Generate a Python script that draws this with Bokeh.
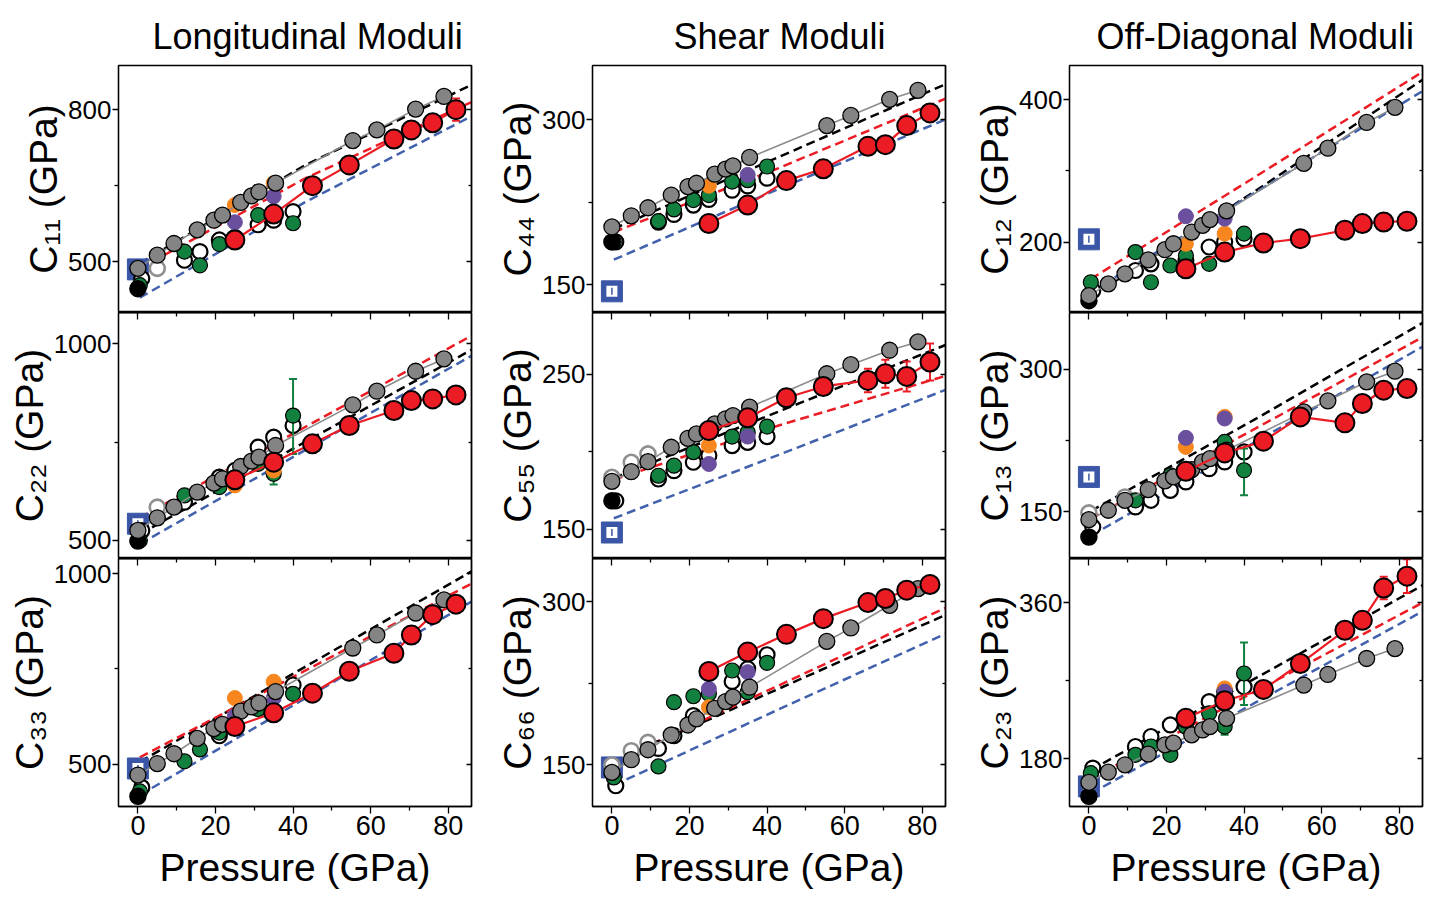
import numpy as np
from bokeh.plotting import figure
from bokeh.layouts import gridplot
from bokeh.models import FixedTicker, LinearAxis, Range1d
from bokeh.embed import file_html
from bokeh.resources import INLINE

n = np.nan
FONT = "Liberation Sans"

PANELS = [["C11", "C44", "C12"], ["C22", "C55", "C13"], ["C33", "C66", "C23"]]
TITLES = ["Longitudinal Moduli", "Shear Moduli", "Off-Diagonal Moduli"]
YLABELS = {"C11": "C\u2081\u2081 (GPa)", "C44": "C\u2084\u2084 (GPa)", "C12": "C\u2081\u2082 (GPa)",
           "C22": "C\u2082\u2082 (GPa)", "C55": "C\u2085\u2085 (GPa)", "C13": "C\u2081\u2083 (GPa)",
           "C33": "C\u2083\u2083 (GPa)", "C66": "C\u2086\u2086 (GPa)", "C23": "C\u2082\u2083 (GPa)"}
Y_RANGE = {"C11": (400, 887), "C44": (125, 349), "C12": (101, 448),
           "C22": (454, 1080), "C55": (131, 290), "C13": (101, 360),
           "C33": (389, 1040), "C66": (111.5, 340), "C23": (125, 411)}
Y_MAJOR = {"C11": [500, 800], "C44": [150, 300], "C12": [200, 400],
           "C22": [500, 1000], "C55": [150, 250], "C13": [150, 300],
           "C33": [500, 1000], "C66": [150, 300], "C23": [180, 360]}
Y_MINOR = {"C11": [650], "C44": [225], "C12": [300],
           "C22": [750], "C55": [200], "C13": [225],
           "C33": [750], "C66": [225], "C23": [270]}
X_TICKS = [0, 20, 40, 60, 80]
X_MINOR = [10, 30, 50, 70]

# pressures (GPa)
GRAY_P = [0, 5, 9.3, 15.3, 19.6, 21.8, 26.5, 29.3, 31.2, 35.5, 55.4, 61.6, 71.6, 78.9]
RED_P = [25, 35, 45, 54.5, 66, 70.5, 76, 82]
OPEN_P = [1, 12, 16, 21, 25, 31, 35, 40]
GREEN_P = [0.5, 12, 16, 21, 25, 31, 35, 40]
GRAYOPEN_P = [0, 5, 9.3]
OP_P = [25, 35]
ZERO_P = [0]
DASH_P = [0.5, 43, 86]

GRAY = {
    "C11": [487, 513, 536, 563, 582, 592, 617, 630, 638, 655, 739, 760, 801, 826],
    "C44": [202.6, 212.7, 220, 231.5, 239.2, 242.2, 250.4, 255, 258, 265.6, 294.5, 303.7, 318.3, 326.5],
    "C12": [124.7, 141.2, 155.3, 175, 189.2, 197.6, 214, 223.5, 231.5, 243.8, 310.6, 331.8, 368, 389.2],
    "C22": [525.4, 557.6, 584.7, 622.9, 645.8, 656.8, 688.1, 701.7, 711.9, 741.5, 844.9, 879.7, 930.5, 961.9],
    "C55": [180.9, 187.1, 193.6, 202.9, 208.7, 211.5, 218, 221.3, 223.4, 228.8, 250.4, 256.3, 265.6, 271],
    "C13": [141.9, 151.8, 162.3, 173.6, 182.7, 186.9, 194.6, 202.7, 206.2, 215, 255.4, 267, 287, 298.2],
    "C33": [471.6, 501.7, 527.5, 567.9, 593.6, 604.8, 639.2, 650.3, 660.7, 690.7, 805, 839.3, 896.9, 931.3],
    "C66": [142.9, 154.6, 163.8, 177.4, 186.6, 192.2, 202, 208.2, 212.2, 221.4, 263.6, 276, 296.9, 312.3],
    "C23": [152.8, 164.7, 173.1, 185.4, 196.1, 198, 207.6, 213.3, 217.1, 226.7, 265, 277.3, 295.7, 307.1],
}
RED = {
    "C11": [543, 594, 650, 691, 742, 760, 774, 800],
    "C44": [205.7, 222.4, 244.6, 255.3, 275.7, 277.2, 294.5, 306],
    "C12": [162.4, 185.9, 198.6, 204.7, 216.5, 225.9, 228.2, 229.2],
    "C22": [654.2, 699.2, 745.8, 792.4, 830.5, 855.9, 860.2, 870.3],
    "C55": [213.7, 221.9, 234.9, 242.2, 246.1, 250.4, 248.7, 258],
    "C13": [192.9, 212.2, 224.5, 250.1, 243.8, 264.2, 278.2, 280],
    "C33": [598.8, 634.9, 686.4, 744, 791.2, 839.3, 892.6, 920.1],
    "C66": [235.9, 253.8, 270.1, 284.6, 299.4, 303.1, 310.8, 316],
    "C23": [226.7, 247, 260, 289.9, 328.2, 339.7, 376.9, 390.6],
}
RED_ERR = {
    "C11": [0, 0, 0, 0, 0, 0, 14, 22],
    "C44": [0, 0, 0, 0, 0, 0, 0, 0],
    "C12": [0, 0, 0, 0, 0, 0, 0, 0],
    "C22": [0, 0, 0, 0, 0, 0, 0, 0],
    "C55": [0, 0, 0, 0, 7.6, 9, 9.7, 12],
    "C13": [0, 0, 0, 0, 0, 0, 0, 0],
    "C33": [0, 0, 0, 0, 0, 0, 0, 0],
    "C66": [0, 0, 0, 0, 0, 0, 0, 0],
    "C23": [0, 0, 0, 0, 0, 5, 13, 19.5],
}
OPEN = {
    "C11": [467, 503, 520, 543, 548, 573, 582, 599],
    "C44": [189, 207, 214, 222.4, 227.6, 236, 239.8, 246.8],
    "C12": [131.8, 160, 169.4, n, 174, 193, 200, 204.7],
    "C22": [525, 597.5, n, 661, 678, 737.3, 762.7, 792.4],
    "C55": [168.3, 182.4, 187.8, 193.2, 197.5, 204, 206.1, 209.8],
    "C13": [134.2, 155.3, 162.3, 172.8, 181.6, 195.6, 202.7, 213.2],
    "C33": [439, n, n, 574.7, n, n, n, 707.9],
    "C66": [130.6, 165, 176.8, 195.3, n, 226.7, 238.4, 251.3],
    "C23": [169.3, 194.2, 205.7, 219.1, n, 245.9, 257.4, 263.1],
}
GREEN = {
    "C11": [454, 520, 493, 535, n, 592, n, 576],
    "C44": [189, 207.8, 218.5, 227, 231.5, 243.7, 245, 257.4],
    "C12": [143.5, 185.9, 143.5, 167, 181, 169.4, n, 211.8],
    "C22": [500, 614.4, n, 635.6, 648, 695, 669.5, 817.8],
    "C55": [n, 184.5, 191, 199.7, n, 209.8, 212.6, 216.3],
    "C13": [n, 162.3, n, 188.6, n, n, 223.8, 193.9],
    "C33": [428.7, 507.7, 538.7, 583, n, 645, n, 684.7],
    "C66": [138.3, 148.4, 207.6, 213.1, 215.3, 236.8, 216.8, 243.9],
    "C23": [163.5, 184.6, 194.2, 184.6, 217, 232.5, 217.1, 278.4],
}
GREEN_LO = {
    "C22": [n, n, n, n, n, n, 642.5, 720],
    "C13": [n, n, n, n, n, n, n, 167.6],
    "C23": [n, n, n, n, n, n, 207.6, 242],
}
GREEN_HI = {
    "C22": [n, n, n, n, n, n, 696.5, 911],
    "C13": [n, n, n, n, n, n, n, 216.8],
    "C23": [n, n, n, n, n, n, 226.6, 314],
}
GRAYOPEN = {
    "C11": [n, 487, n], "C44": [n, n, n], "C12": [n, n, n],
    "C22": [n, 584.7, n], "C55": [183.5, 193.2, 198.6], "C13": [149, n, 165.8],
    "C33": [n, n, n], "C66": [149.7, 162.9, 170.6], "C23": [n, n, n],
}
ORANGE = {
    "C11": [612, 655], "C44": [240, n], "C12": [197.6, 211.8],
    "C22": [640, 678], "C55": [204, n], "C13": [218.5, 250.1],
    "C33": [673.5, 716.5], "C66": [203, n], "C23": [n, 261.2],
}
PURPLE = {
    "C11": [578, 629], "C44": [n, 249.8], "C12": [236.2, 232.9],
    "C22": [n, n], "C55": [192.1, 209.8], "C13": [228, 248.4],
    "C33": [626.3, 673.5], "C66": [219.9, 235.3], "C23": [n, 257.4],
}
BLACK0 = {"C11": [447], "C44": [189], "C12": [117.6], "C22": [498.3], "C55": [168.3],
          "C13": [123.7], "C33": [415.8], "C66": [n], "C23": [136.7]}
BLUE0 = {"C11": [485], "C44": [144.2], "C12": [203.8], "C22": [542.4], "C55": [147.8],
         "C13": [186.9], "C33": [488.8], "C66": [147.5], "C23": [148.2]}
DASH_BLACK = {"C11": [497, 690, 849], "C44": [201, 266, 332], "C12": [123, 272, 428],
              "C22": [516, 750, 985], "C55": [183, 226, 269], "C13": [151, 248, 349],
              "C33": [506, 755, 1006], "C66": [153, 220, 288], "C23": [167, 273, 380]}
DASH_RED = {"C11": [487, 664, 815], "C44": [198, 256, 319], "C12": [148, 292, 439],
            "C22": [558, 788, 1021], "C55": [182, 217, 249], "C13": [143, 238, 334],
            "C33": [518, 745, 974], "C66": [153, 223, 294.5], "C23": [157, 258, 360]}
DASH_BLUE = {"C11": [429, 617, 787], "C44": [173, 237, 300], "C12": [130, 270, 412],
             "C22": [491, 729, 970], "C55": [157, 198, 240], "C13": [125, 224, 324],
             "C33": [419, 672, 927], "C66": [131, 201, 270.7], "C23": [140, 245, 350]}

C_RED = "#ec1c24"
C_GRAY = "#848484"
C_GREEN = "#12803e"
C_ORANGE = "#f7861e"
C_PURPLE = "#6a4f9e"
C_BLUE = "#3b56a6"
C_DBLUE = "#4261ad"

FRAME_H = [247, 246, 248]
MBL = [118, 111, 110]
MBR = [10, 14, 8]
TITLE_OFFSET = [34, 81, 27]
LW = 1.3


def errbars(p, xs, lo, hi, color, width, cap):
    x2, l2, h2 = [], [], []
    for x, lv, hv in zip(xs, lo, hi):
        if not (np.isnan(lv) or np.isnan(hv)):
            x2.append(x); l2.append(lv); h2.append(hv)
    if x2:
        p.segment(x0=x2, y0=l2, x1=x2, y1=h2, line_color=color, line_width=width)
        p.scatter(x=x2 + x2, y=l2 + h2, marker="dash", size=cap, line_color=color, line_width=width)


def tick_only_axis(ticks, length):
    # axis that carries only tick marks (no labels)
    return LinearAxis(ticker=FixedTicker(ticks=[], minor_ticks=ticks),
                      major_tick_in=0, major_tick_out=0,
                      minor_tick_in=length, minor_tick_out=0,
                      major_label_standoff=0, axis_line_width=LW,
                      minor_tick_line_width=LW)


def make_panel(key, r, c):
    kw = dict(frame_width=353, frame_height=FRAME_H[r],
              x_range=Range1d(-5, 86), y_range=Range1d(*Y_RANGE[key]),
              output_backend="svg", toolbar_location=None,
              x_axis_location="below" if r == 2 else None,
              min_border=0, min_border_left=MBL[c], min_border_right=MBR[c],
              min_border_top=65 if r == 0 else 0, min_border_bottom=90 if r == 2 else 0,
              background_fill_color="white", border_fill_color="white",
              outline_line_color="black", outline_line_width=LW)
    if r == 0:
        kw["title"] = TITLES[c]
    p = figure(**kw)
    p.xgrid.grid_line_color = None
    p.ygrid.grid_line_color = None
    if r == 0:
        p.title.text_font = FONT
        p.title.text_font_size = "36px"
        p.title.text_font_style = "normal"
        p.title.text_color = "black"
        p.title.align = "left"
        p.title.offset = TITLE_OFFSET[c]
        p.title.standoff = 18

    ya = p.left[0]
    ya.ticker = FixedTicker(ticks=Y_MAJOR[key], minor_ticks=Y_MINOR[key])
    ya.major_tick_out = 6; ya.major_tick_in = 0
    ya.minor_tick_out = 4; ya.minor_tick_in = 0
    ya.major_tick_line_width = LW; ya.minor_tick_line_width = LW
    ya.axis_line_width = LW
    ya.major_label_text_font = FONT
    ya.major_label_text_font_size = "26px"
    ya.major_label_text_color = "black"
    ya.major_label_standoff = 1
    ya.axis_label = YLABELS[key]
    ya.axis_label_text_font = FONT
    ya.axis_label_text_font_size = "39px"
    ya.axis_label_text_font_style = "normal"
    ya.axis_label_text_color = "black"
    ya.axis_label_standoff = 0

    p.add_layout(tick_only_axis(Y_MAJOR[key], 5), "right")
    p.add_layout(tick_only_axis(Y_MINOR[key], 3), "right")

    if r > 0:
        p.add_layout(tick_only_axis(X_TICKS, 7), "above")
        p.add_layout(tick_only_axis(X_MINOR, 4), "above")
    if r == 2:
        xa = p.below[0]
        xa.ticker = FixedTicker(ticks=X_TICKS, minor_ticks=X_MINOR)
        xa.major_tick_out = 7; xa.major_tick_in = 0
        xa.minor_tick_out = 4; xa.minor_tick_in = 0
        xa.major_tick_line_width = LW; xa.minor_tick_line_width = LW
        xa.axis_line_width = LW
        xa.major_label_text_font = FONT
        xa.major_label_text_font_size = "27px"
        xa.major_label_text_color = "black"
        xa.major_label_standoff = 2
        xa.axis_label = "Pressure (GPa)"
        xa.axis_label_text_font = FONT
        xa.axis_label_text_font_size = "39px"
        xa.axis_label_text_font_style = "normal"
        xa.axis_label_text_color = "black"
        xa.axis_label_standoff = 8

    # dashed reference curves
    p.line(DASH_P, DASH_BLACK[key], line_color="black", line_width=2.5, line_dash="9 5")
    p.line(DASH_P, DASH_RED[key], line_color=C_RED, line_width=2.5, line_dash="9 5")
    p.line(DASH_P, DASH_BLUE[key], line_color=C_DBLUE, line_width=2.5, line_dash="9 5")

    # blue square at ambient
    p.scatter(ZERO_P, BLUE0[key], marker="square", size=21, fill_color=C_BLUE, line_color=C_BLUE)
    p.scatter(ZERO_P, BLUE0[key], marker="square", size=11, fill_color="white", line_color=None)
    p.scatter(ZERO_P, BLUE0[key], marker="dash", angle=np.pi / 2, size=7, line_color=C_BLUE, line_width=1.5)

    # open circles
    p.scatter(OPEN_P, OPEN[key], marker="circle", size=15, fill_color="white",
              line_color="black", line_width=2.2)
    p.scatter(GRAYOPEN_P, GRAYOPEN[key], marker="circle", size=15, fill_color="white",
              line_color="#8f8f8f", line_width=2.6)

    # green with error bars
    if key in GREEN_LO:
        errbars(p, GREEN_P, GREEN_LO[key], GREEN_HI[key], C_GREEN, 2, 8)
    p.scatter(GREEN_P, GREEN[key], marker="circle", size=15, fill_color=C_GREEN,
              line_color="black", line_width=1.2)
    p.scatter(OP_P, ORANGE[key], marker="circle", size=15, fill_color=C_ORANGE,
              line_color=C_ORANGE, line_width=1.0)
    p.scatter(OP_P, PURPLE[key], marker="circle", size=15, fill_color=C_PURPLE,
              line_color=C_PURPLE, line_width=1.0)
    p.scatter(ZERO_P, BLACK0[key], marker="circle", size=16, fill_color="black",
              line_color="black", line_width=1.5)

    # gray connected series
    p.line(GRAY_P, GRAY[key], line_color="#8c8c8c", line_width=1.6)
    p.scatter(GRAY_P, GRAY[key], marker="circle", size=16, fill_color=C_GRAY,
              line_color="black", line_width=1.3)

    # red connected series with error bars
    lo = [v - e if e > 0 else n for v, e in zip(RED[key], RED_ERR[key])]
    hi = [v + e if e > 0 else n for v, e in zip(RED[key], RED_ERR[key])]
    errbars(p, RED_P, lo, hi, C_RED, 2, 8)
    p.line(RED_P, RED[key], line_color=C_RED, line_width=2.2)
    p.scatter(RED_P, RED[key], marker="circle", size=19, fill_color=C_RED,
              line_color="black", line_width=2.0)
    return p


rows = [[make_panel(PANELS[r][c], r, c) for c in range(3)] for r in range(3)]
grid = gridplot(rows, toolbar_location=None)

open("out.html", "w").write(file_html(grid, INLINE))
